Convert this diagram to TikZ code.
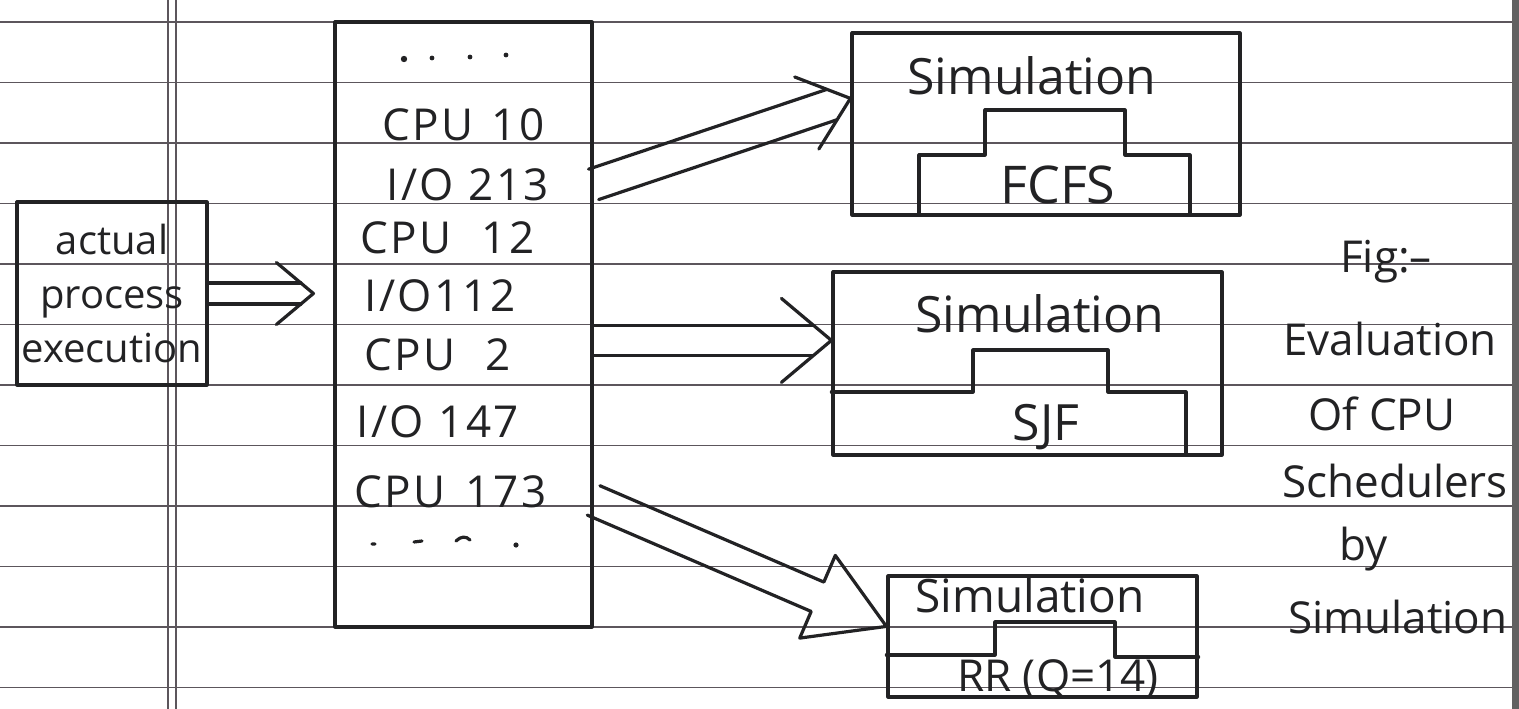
\documentclass[tikz,border=0pt]{standalone}
\usepackage{fontspec}
\setmainfont{Open Sans}
\usetikzlibrary{calc}

\definecolor{ink}{RGB}{34,34,36}
\definecolor{rulecol}{RGB}{92,86,92}

\tikzset{
  pen/.style={draw=ink, line width=3.2pt, line cap=round, line join=round},
  boxnode/.style={pen, rectangle, inner sep=0pt},
  paperrule/.style={draw=rulecol, line width=1.6pt},
  entry/.style={anchor=base west, inner sep=0pt, text=ink,
                font=\fontsize{44}{52}\selectfont\addfontfeature{LetterSpace=6}},
  simtext/.style={anchor=base, inner sep=0pt, text=ink, font=\fontsize{50}{60}\selectfont},
  algtext/.style={anchor=base, inner sep=0pt, text=ink, font=\fontsize{52}{60}\selectfont},
  captext/.style={anchor=base, inner sep=0pt, text=ink, font=\fontsize{44}{52}\selectfont},
}

% double-shaft arrow with an open V head:
% #1 name, #2 start, #3 tip, #4 half gap, #5 barb half-width, #6 head length, #7 shaft stop (from tip)
\newcommand\twinarrow[7]{%
  \coordinate (#1-e) at ($(#3)!#7!(#2)$);
  \coordinate (#1-b) at ($(#3)!#6!(#2)$);
  \draw[pen] ($(#2)!#4!90:(#3)$) -- ($(#1-e)!#4!90:(#3)$);
  \draw[pen] ($(#2)!#4!-90:(#3)$) -- ($(#1-e)!#4!-90:(#3)$);
  \draw[pen] ($(#1-b)!#5!90:(#3)$) -- (#3) -- ($(#1-b)!#5!-90:(#3)$);
}
% hollow block arrow: #1 name, #2 start, #3 tip, #4 half gap, #5 head half-width, #6 head length
\newcommand\blockarrow[6]{%
  \coordinate (#1-b) at ($(#3)!#6!(#2)$);
  \draw[pen] ($(#2)!#4!90:(#3)$) -- ($(#1-b)!#4!90:(#3)$) -- ($(#1-b)!#5!90:(#3)$)
     -- (#3) -- ($(#1-b)!#5!-90:(#3)$) -- ($(#1-b)!#4!-90:(#3)$) -- ($(#2)!#4!-90:(#3)$);
}

\begin{document}
\begin{tikzpicture}[x=1pt, y=-1pt]
  \useasboundingbox (0,0) rectangle (1519,709);
  \fill[white] (0,0) rectangle (1519,709);

  % ruled notebook paper
  \foreach \k in {0,...,11}
    \draw[paperrule] (0,{22+60.5*\k}) -- (1512,{22+60.5*\k});
  \draw[paperrule, line width=2pt] (168,0) -- (168,709);
  \draw[paperrule, line width=2pt] (176,0) -- (176,709);
  \fill[black!62] (1512,0) rectangle (1519,709);

  % source of the trace
  \node[boxnode, minimum width=190pt, minimum height=183pt, align=center,
        text=ink, font=\fontsize{40}{54}\selectfont] (actual) at (112,293.5)
        {actual\\process\\execution};

  % trace tape
  \node[boxnode, minimum width=257pt, minimum height=605pt] (stream) at (463.5,324.5) {};
  \fill[ink] (404,59) circle (3.2pt) (432,58) circle (2.4pt) (470,57) circle (2.4pt) (506,55) circle (2.4pt);
  \node[entry] (e1) at (382,140) {CPU\hspace{18pt}10};
  \node[entry] (e2) at (386,200) {I/O 213};
  \node[entry] (e3) at (360,253) {CPU\hspace{30pt}12};
  \node[entry] (e4) at (364,311) {I/O112};
  \node[entry] (e5) at (364,370) {CPU\hspace{30pt}2};
  \node[entry] (e6) at (356,437) {I/O 147};
  \node[entry] (e7) at (354,507) {CPU\hspace{20pt}173};
  \draw[pen] (372,544) -- (375,544) (414,542) -- (422,541) (456,541) .. controls (461,536) and (466,536) .. (470,540);
  \fill[ink] (516,545) circle (2.6pt);

  % FCFS simulation
  \node[boxnode, minimum width=388pt, minimum height=182pt] (fcfs) at (1046,124) {};
  \node[simtext] (sim1) at (1032,95) {Simulation};
  \draw[pen] (919,215) -- (919,155) -- (985,155) -- (985,110) -- (1125,110) -- (1125,155) -- (1190,155) -- (1190,215);
  \node[algtext] (fcfsl) at (1058,203) {FCFS};

  % SJF simulation
  \node[boxnode, minimum width=389pt, minimum height=183pt] (sjf) at (1027.5,363.5) {};
  \node[simtext] (sim2) at (1040,332) {Simulation};
  \draw[pen] (sjf.west |- 0,392) -- (973,392) -- (973,350) -- (1108,350) -- (1108,392) -- (1186,392) -- (1186,455);
  \node[algtext, font=\fontsize{50}{60}\selectfont] (sjfl) at (1046,440) {SJF};

  % RR simulation
  \node[boxnode, minimum width=309pt, minimum height=121pt] (rr) at (1042.5,636.5) {};
  \node[simtext, font=\fontsize{46}{56}\selectfont] (sim3) at (1030,612) {Simulation};
  \draw[pen] (rr.west |- 0,655) -- (995,655) -- (995,622) -- (1115,622) -- (1115,657) -- (rr.east |- 0,657);
  \node[algtext, font=\fontsize{44}{52}\selectfont] (rrl) at (1058,691) {RR (Q=14)};

  % caption
  \node[captext] (c1) at (1386,272) {Fig:--};
  \node[captext] (c2) at (1390,355) {Evaluation};
  \node[captext] (c3) at (1382,430) {Of CPU};
  \node[captext] (c4) at (1395,497) {Schedulers};
  \node[captext] (c5) at (1364,560) {by};
  \node[captext] (c6) at (1398,633) {Simulation};

  % connectors
  \coordinate (a-s) at (actual.east);
  \coordinate (a-t) at ($(stream.west |- actual.east)+(-20,0)$);
  \twinarrow{a}{a-s}{a-t}{10.5pt}{31pt}{37pt}{12.5pt}

  \coordinate (f-s) at ($(stream.north east)+(0,164)$);
  \coordinate (f-t) at ($(fcfs.north west)+(0,67)$);
  \twinarrow{f}{f-s}{f-t}{16pt}{38pt}{46pt}{19.4pt}

  \coordinate (j-s) at ($(stream.north east)+(0,320)$);
  \coordinate (j-t) at (sjf.west |- j-s);
  \twinarrow{j}{j-s}{j-t}{15pt}{42pt}{50pt}{18pt}

  \coordinate (r-s) at ($(stream.north east)+(0,480)$);
  \coordinate (r-t) at ($(rr.north west)+(0,52)$);
  \blockarrow{r}{r-s}{r-t}{16pt}{45pt}{75pt}
\end{tikzpicture}
\end{document}
